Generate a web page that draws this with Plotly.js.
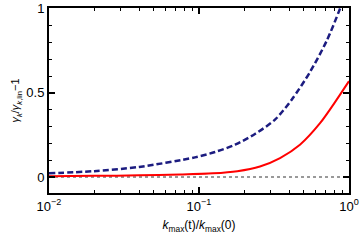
<!DOCTYPE html>
<html>
<head>
<meta charset="utf-8">
<script src="https://cdn.plot.ly/plotly-3.0.1.min.js"></script>
<style>html,body{margin:0;padding:0;background:#fff;}#chart{width:360px;height:240px;}</style>
</head>
<body>
<div id="chart"></div>
<script>
const kRatioBlue = [0.01, 0.02, 0.04, 0.094, 0.128, 0.174, 0.236, 0.321, 0.415, 0.55, 0.71, 0.87, 1.0];
const gammaBlue  = [0.022, 0.035, 0.06, 0.117, 0.149, 0.192, 0.256, 0.341, 0.46, 0.625, 0.81, 1.0, 1.15];
const kRatioRed  = [0.01, 0.02, 0.04, 0.075, 0.124, 0.18, 0.255, 0.347, 0.471, 0.641, 0.828, 1.0];
const gammaRed   = [0.005, 0.007, 0.01, 0.015, 0.022, 0.035, 0.063, 0.113, 0.192, 0.32, 0.46, 0.57];
const kRatioZero = [0.01, 1.0];
const gammaZero  = [0, 0];
const xTickVals = [0.01, 0.1, 1];
const xTickText = ['10<sup>−2</sup>', '10<sup>−1</sup>', '10<sup>0</sup>'];
const yTickVals = [0, 0.5, 1];
const yTickText = ['0', '0.5', '1'];

const xMinor = [];
[0.01, 0.1].forEach(d => { for (let m = 2; m <= 9; m++) xMinor.push(d * m); });
const yMinor = [];
for (let i = 0; i <= 10; i++) yMinor.push(i / 10);

const axisCommon = {
  showline: true, linecolor: '#000', linewidth: 2, mirror: 'ticks',
  ticks: 'inside', ticklen: 6, tickwidth: 1.2, tickcolor: '#000',
  showgrid: false, zeroline: false,
  tickfont: {family: 'Liberation Sans, Arial, sans-serif', size: 13, color: '#000'}
};

const data = [
  {x: kRatioZero, y: gammaZero, mode: 'lines', line: {color: '#999999', width: 2, dash: 'dot'}, hoverinfo: 'skip'},
  {x: kRatioRed, y: gammaRed, mode: 'lines', line: {color: '#ff0000', width: 2, shape: 'spline', smoothing: 0.8}},
  {x: kRatioBlue, y: gammaBlue, mode: 'lines', line: {color: '#1c1c80', width: 2.5, dash: '6px,3px', shape: 'spline', smoothing: 0.8}}
];

const layout = {
  width: 360, height: 240,
  margin: {l: 49, r: 11, t: 8, b: 47},
  showlegend: false,
  paper_bgcolor: '#fff', plot_bgcolor: '#fff',
  xaxis: Object.assign({}, axisCommon, {
    type: 'log', range: [-2, 0],
    tickmode: 'array', tickvals: xTickVals, ticktext: xTickText,
    minor: {tickmode: 'array', tickvals: xMinor, ticks: 'inside', ticklen: 3, tickcolor: '#000', showgrid: false},
    title: {text: '<i>k</i><sub>max</sub>(t)/<i>k</i><sub>max</sub>(0)', font: {family: 'Liberation Sans, Arial, sans-serif', size: 12, color: '#000'}, standoff: 8}
  }),
  yaxis: Object.assign({}, axisCommon, {
    range: [-0.095, 1.005],
    tickmode: 'array', tickvals: yTickVals, ticktext: yTickText,
    minor: {tickmode: 'array', tickvals: yMinor, ticks: 'inside', ticklen: 3, tickcolor: '#000', showgrid: false},
    title: {text: '<i>γ<sub>k</sub></i>/<i>γ<sub>k</sub></i><sub>,lin</sub>−1', font: {family: 'Liberation Sans, Arial, sans-serif', size: 11, color: '#000'}, standoff: 4}
  })
};

Plotly.newPlot('chart', data, layout, {staticPlot: true, displayModeBar: false});
</script>
</body>
</html>
